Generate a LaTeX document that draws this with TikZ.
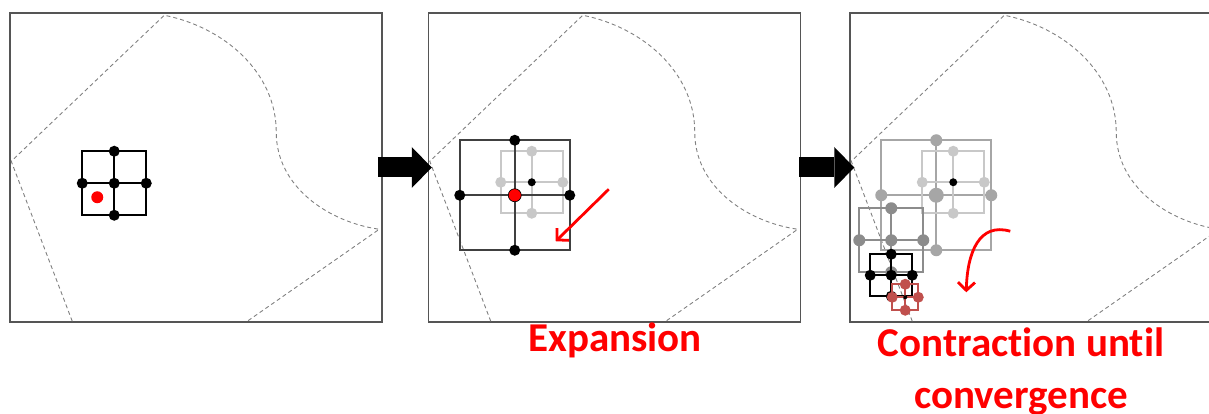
\documentclass[tikz,border=0pt]{standalone}
\usepackage{fontspec}
\newfontfamily\lblfont[Ligatures=NoCommon]{Carlito}
\usetikzlibrary{arrows.meta,positioning}
\definecolor{frm}{HTML}{555555}
\definecolor{gA}{HTML}{C8C8C8}
\definecolor{gB}{HTML}{A6A6A6}
\definecolor{gC}{HTML}{8C8C8C}
\definecolor{gD}{HTML}{404040}
\definecolor{rdot}{HTML}{C0504D}
% one compass stencil: centre x, centre y, half width, line colour, dot colour, dot radius
\newcommand{\stencil}[6]{%
  \draw[#4,line width=1.6pt] ({#1-#3},{#2-#3}) rectangle ({#1+#3},{#2+#3});
  \draw[#4,line width=1.6pt] ({#1-#3},#2) -- ({#1+#3},#2) (#1,{#2-#3}) -- (#1,{#2+#3});
  \foreach \dx/\dy in {0/-1,0/1,-1/0,1/0}
    \fill[#5] ({#1+(\dx)*#3},{#2+(\dy)*#3}) circle (#6pt);
}
\begin{document}
\begin{tikzpicture}[x=1pt,y=-1pt,
  panel/.style={draw=frm,line width=1.5pt,minimum width=372pt,minimum height=309pt,inner sep=0pt},
  zone/.style={draw=gray,dash pattern=on 4pt off 3pt,line width=0.9pt},
  bigarrow/.style={line width=20pt,-{Triangle[length=20pt,width=41pt,line width=0pt]}},
  redarr/.style={red,line width=2.8pt,-{Straight Barb[length=8pt,width=17pt]}},
  lbl/.style={text=red,font=\lblfont\bfseries\fontsize{41}{52}\selectfont,align=center,inner sep=0pt}]
\useasboundingbox (0,0) rectangle (1209,414);
\clip (0,0) rectangle (1209,414);
\node[panel] (p1) at (196,167.5) {};
\node[panel,right=45pt of p1] (p2) {};
\node[panel,right=48pt of p2] (p3) {};
% dashed feasible zone, same in every panel
\foreach \p in {p1,p2,p3}
  \draw[zone,shift={(\p.north west)}] (63,309) -- (2,149) -- (155,3)
    .. controls (215,15) and (267,60) .. (267,120)
    .. controls (267,175) and (320,210) .. (370,217) -- (238,309);
\draw[bigarrow,shorten <=-5pt,shorten >=-4pt] (p1.east) -- (p2.west);
\draw[bigarrow,shorten <=-2pt,shorten >=-5pt] (p2.east) -- (p3.west);
% start
\begin{scope}[shift={(p1.north west)}]
  \stencil{105}{171}{32}{black}{black}{5.5}
  \fill[black] (105,171) circle (5.5pt);
  \fill[red] (88,185) circle (6pt);
\end{scope}
% expansion
\begin{scope}[shift={(p2.north west)}]
  \stencil{104}{170}{31}{gA}{gA}{5.5}
  \fill[black] (104,170) circle (4pt);
  \stencil{87}{183}{55}{gD}{black}{5.5}
  \filldraw[fill=red,draw=black,line width=0.6pt] (87,183) circle (6.5pt);
  \coordinate (e1) at (181,177);
  \coordinate (e2) at (128,229);
  \draw[redarr] (e1) -- (e2);
\end{scope}
% contraction
\begin{scope}[shift={(p3.north west)}]
  \stencil{87}{183}{55}{gB}{gB}{6}
  \fill[gB] (87,183) circle (7.5pt);
  \stencil{104}{170}{31}{gA}{gA}{5.5}
  \fill[black] (104,170) circle (4pt);
  \stencil{42}{228}{32}{gC}{gC}{6}
  \fill[gC] (42,228) circle (6pt);
  \stencil{42}{263}{21}{black}{black}{5.5}
  \fill[black] (42,263) circle (5.5pt);
  \stencil{56}{285}{13}{rdot}{rdot}{5.5}
  \fill[black] (56,285) circle (2pt);
  \coordinate (c1) at (161,219);
  \coordinate (c2) at (117,280);
  \draw[redarr] (c1) .. controls (130,210) and (118,240) .. (c2);
\end{scope}
\node[lbl,anchor=base] (exp) at (615,351) {Expansion};
\node[lbl,anchor=base] (con) at (1021,408) {Contraction until\\convergence};
\end{tikzpicture}
\end{document}
